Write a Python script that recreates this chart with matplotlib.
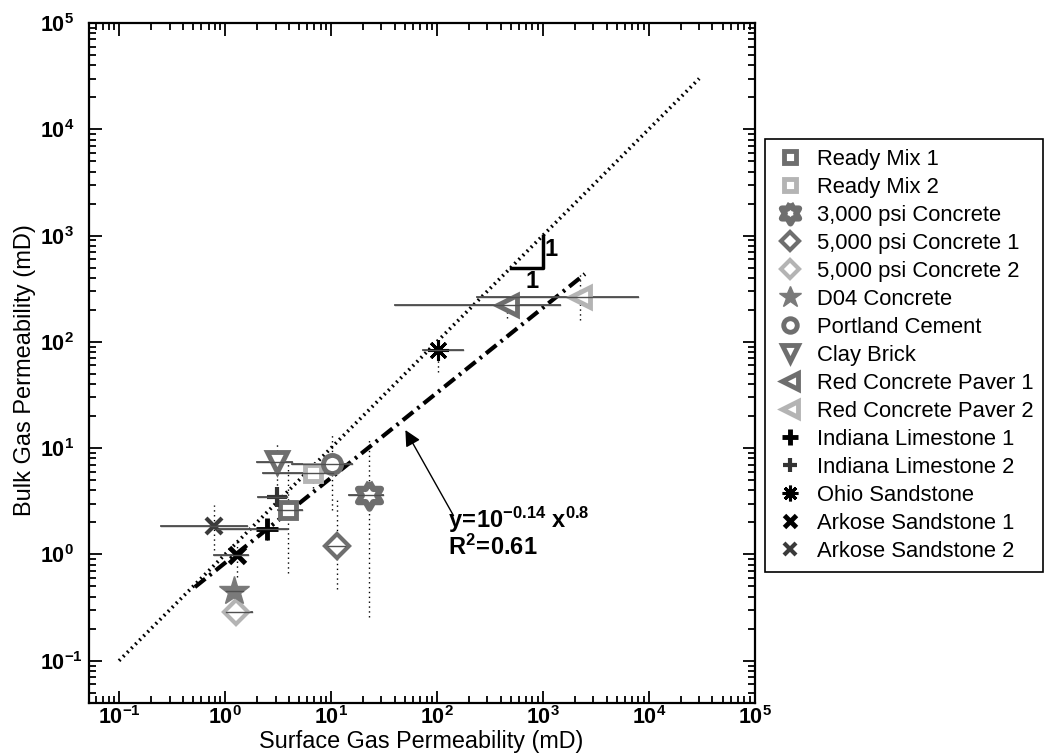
import numpy as np
import matplotlib
matplotlib.use('Agg')
from matplotlib import pyplot as plt
from matplotlib.ticker import FuncFormatter, LogLocator

plt.rcParams['font.family'] = ['Liberation Sans', 'DejaVu Sans']
plt.rcParams['mathtext.fontset'] = 'custom'
plt.rcParams['mathtext.rm'] = 'Liberation Sans'
plt.rcParams['mathtext.bf'] = 'Liberation Sans:bold'
plt.rcParams['mathtext.it'] = 'Liberation Sans:italic'

#Data: surface (x) and bulk (y) gas permeability, mD
names = ['Ready Mix 1', 'Ready Mix 2', '3,000 psi Concrete', '5,000 psi Concrete 1',
         '5,000 psi Concrete 2', 'D04 Concrete', 'Portland Cement', 'Clay Brick',
         'Red Concrete Paver 1', 'Red Concrete Paver 2', 'Indiana Limestone 1',
         'Indiana Limestone 2', 'Ohio Sandstone', 'Arkose Sandstone 1', 'Arkose Sandstone 2']
surf = [3.9, 6.8, 22.9, 11.4, 1.27, 1.22, 10.2, 3.1, 459, 2240, 2.49, 3.1, 102, 1.3, 0.79]
bulk = [2.6, 5.9, 3.6, 1.2, 0.29, 0.45, 7.1, 7.4, 222, 265, 1.75, 3.5, 84, 0.98, 1.85]
surf_lo = [3.17, 2.28, 14.8, 9.4, 1.02, 1.02, 4.3, 2.0, 40, 240, 0.84, 2.05, 74, 0.79, 0.25]
surf_hi = [5.33, 10.5, 31, 13.6, 1.8, 1.48, 15.8, 4.3, 1470, 7900, 3.85, 3.85, 177, 1.65, 1.61]
bulk_lo = [0.67, 4.24, 0.26, 0.47, 0.25, 0.35, 2.6, 4.0, 169, 161, 1.37, 3.0, 52, 0.62, 1.1]
bulk_hi = [7.3, 7.3, 12, 3.3, 0.38, 0.6, 14, 11.5, 277, 457, 2.27, 4.2, 84, 1.37, 2.94]

#Fit line and 1:1 line
fit_a = -0.08
fit_b = 0.8
fit_x = [0.52, 2500]
one_x = [0.1, 3e4]

#hexagram marker
ang = np.deg2rad(90 + 30*np.arange(13))
rad = np.where(np.arange(13) % 2 == 0, 1.0, 1/np.sqrt(3))
hexagram = list(zip(rad*np.cos(ang), rad*np.sin(ang)))

#Marker styles
dk = '#6e6e6e'
lt = '#b4b4b4'
styles = [
    dict(marker='s', ms=12, mfc='white', mec=dk, mew=3.5),
    dict(marker='s', ms=12, mfc='white', mec=lt, mew=3.5),
    dict(marker=hexagram, ms=19, mfc='white', mec=dk, mew=4.5),
    dict(marker='D', ms=12, mfc='white', mec=dk, mew=3),
    dict(marker='D', ms=12, mfc='white', mec=lt, mew=3),
    dict(marker='*', ms=22, mfc='#7a7a7a', mec='#7a7a7a', mew=1),
    dict(marker='o', ms=13, mfc='white', mec=dk, mew=3.5),
    dict(marker='v', ms=15, mfc='white', mec=dk, mew=3.5),
    dict(marker='<', ms=15, mfc='white', mec=dk, mew=3.5),
    dict(marker='<', ms=15, mfc='white', mec=lt, mew=3.5),
    dict(marker='+', ms=16, mfc='black', mec='black', mew=3.5),
    dict(marker='+', ms=14, mfc='#333333', mec='#333333', mew=3),
    dict(marker=(8, 2, 0), ms=15, mfc='black', mec='black', mew=2.2),
    dict(marker='x', ms=12, mfc='black', mec='black', mew=3.5),
    dict(marker='x', ms=11, mfc='#3a3a3a', mec='#3a3a3a', mew=3),
]

fig = plt.figure(figsize=(10.51, 7.54), dpi=100)
ax = fig.add_axes([0.0843, 0.0676, 0.6337, 0.9019])
ax.set_xscale('log')
ax.set_yscale('log')
ax.set_xlim(0.0516, 1e5)
ax.set_ylim(0.04, 1e5)

fx = np.array(fit_x)
ax.plot(one_x, one_x, color='black', lw=2.6, linestyle=(0, (0.5, 1.1)), zorder=2)
ax.plot(fx, 10**fit_a*fx**fit_b, color='black', lw=3, linestyle=(0, (3.2, 1.3, 0.6, 1.3)), zorder=2)

for i in range(len(names)):
    ax.plot([surf_lo[i], surf_hi[i]], [bulk[i], bulk[i]], color='#505050', lw=1.3, zorder=3)
    ax.plot([surf[i], surf[i]], [bulk_lo[i], bulk_hi[i]], color='black', lw=1.0, linestyle=(0, (1, 2.5)), zorder=3)
for i in range(len(names)):
    ax.plot(surf[i], bulk[i], linestyle='none', label=names[i], zorder=4, **styles[i])
# lines through markers drawn again on top (as in reference)
for i in range(len(names)):
    ax.plot([surf_lo[i], surf_hi[i]], [bulk[i], bulk[i]], color='#505050', lw=1.0, zorder=5)

#Slope triangle
ax.plot([500, 1000, 1000], [500, 500, 1000], color='black', lw=2.5, zorder=3)
ax.text(1200, 735, '1', fontsize=17, fontweight='bold', ha='center', va='center')
ax.text(790, 367, '1', fontsize=17, fontweight='bold', ha='center', va='center')

#Fit annotation
ax.annotate('', xy=(49, 15.6), xytext=(148, 2.2),
            arrowprops=dict(arrowstyle='-|>', color='black', lw=1.0, mutation_scale=24))
ax.text(128, 2.12, r'$\mathbf{y\!=\!10^{-0.14}\ x^{0.8}}$', fontsize=17, ha='left', va='center')
ax.text(128, 1.16, r'$\mathbf{R^{2}\!=\!0.61}$', fontsize=17, ha='left', va='center')

#Axes format
def fmt(v, pos):
    e = int(round(np.log10(v)))
    return r'$\mathbf{10^{%d}}$' % e
for a in [ax.xaxis, ax.yaxis]:
    a.set_major_locator(LogLocator(base=10, numticks=20))
    a.set_minor_locator(LogLocator(base=10, subs=np.arange(2, 10), numticks=20))
    a.set_major_formatter(FuncFormatter(fmt))
ax.tick_params(which='both', direction='in', top=True, right=True, width=1.3)
ax.tick_params(which='major', length=9, labelsize=15.5)
ax.tick_params(axis='x', which='major', pad=2)
ax.tick_params(axis='y', which='major', pad=35)
ax.tick_params(which='minor', length=5)
for lab in ax.get_yticklabels():
    lab.set_horizontalalignment('left')
for s in ax.spines.values():
    s.set_linewidth(1.6)
ax.set_xlabel('Surface Gas Permeability (mD)', fontsize=16.8)
ax.set_ylabel('Bulk Gas Permeability (mD)', fontsize=17)
ax.xaxis.set_label_coords(0.5, -0.039)
ax.yaxis.set_label_coords(-0.079, 0.49)

leg = ax.legend(loc='upper left', bbox_to_anchor=(0.728, 0.816), bbox_transform=fig.transFigure,
                fontsize=15.8, frameon=True, fancybox=False, edgecolor='black', framealpha=1,
                markerscale=0.75, labelspacing=0.32, handlelength=1.4, handletextpad=0.5,
                borderpad=0.45, borderaxespad=0)
leg.get_frame().set_linewidth(1.2)

fig.savefig('out.png', dpi=100)
